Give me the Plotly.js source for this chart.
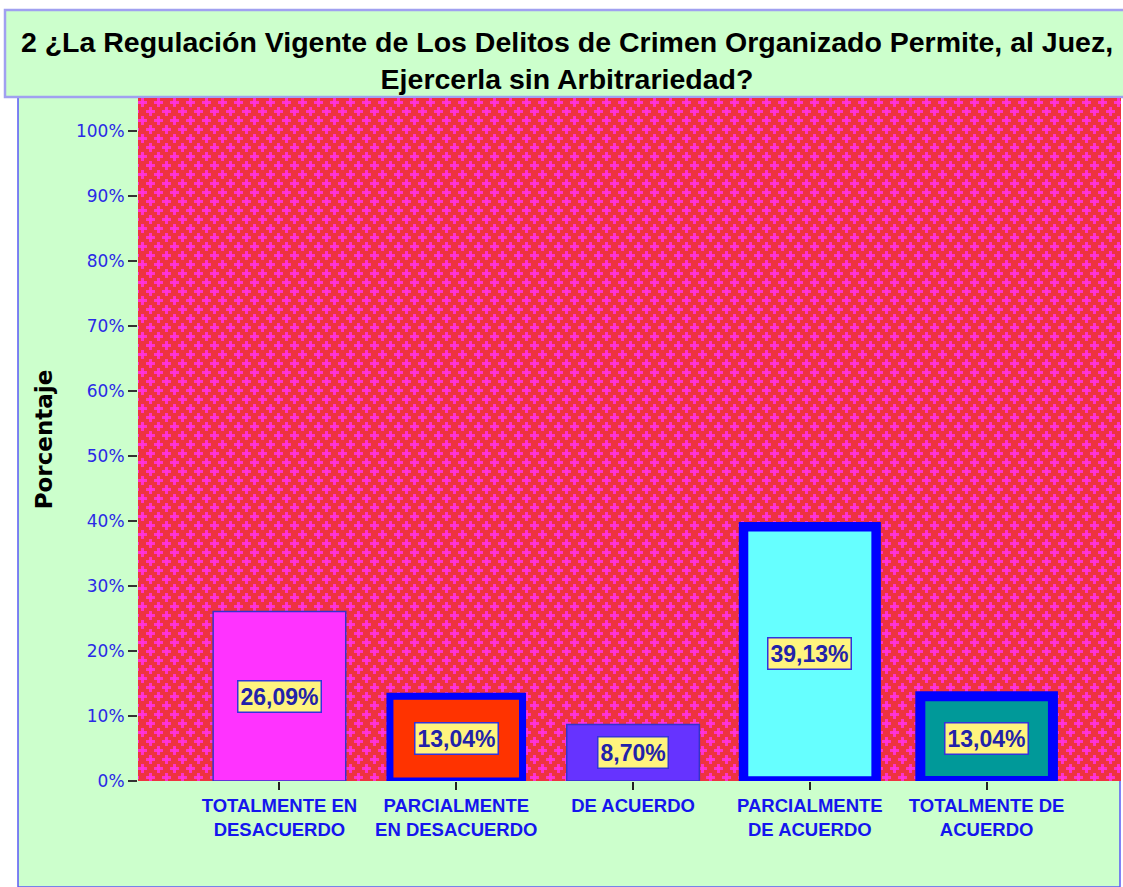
<!DOCTYPE html>
<html>
<head>
<meta charset="utf-8">
<script src="https://cdn.plot.ly/plotly-3.0.1.min.js"></script>
<style>
  html, body { margin: 0; padding: 0; background: #ffffff; }
  #chart { width: 1123px; height: 887px; }
</style>
</head>
<body>
<div id="chart"></div>
<script>
// ---- data ----
const categories = [
  "TOTALMENTE EN<br>DESACUERDO",
  "PARCIALMENTE<br>EN DESACUERDO",
  "DE ACUERDO",
  "PARCIALMENTE<br>DE ACUERDO",
  "TOTALMENTE DE<br>ACUERDO"
];
const percentages = [26.09, 13.04, 8.70, 39.13, 13.04];
const valueLabels = ["26,09%", "13,04%", "8,70%", "39,13%", "13,04%"];
const yTickValues = [0, 10, 20, 30, 40, 50, 60, 70, 80, 90, 100];
const yTickLabels = ["0%", "10%", "20%", "30%", "40%", "50%", "60%", "70%", "80%", "90%", "100%"];

// ---- styles ----
const barColors = ["#FF33FF", "#FF3300", "#6633FF", "#66FFFF", "#009999"];
const barLineColors = ["#3333CC", "#0000FF", "#3333CC", "#0000FF", "#0000FF"];
const barLineWidths = [1.5, 7, 1.5, 9.5, 10];

const xRange = [-0.8, 4.76];
const yRange = [0, 105.1];

// background pattern (red with magenta crosses)
const patternSvg =
  '<svg xmlns="http://www.w3.org/2000/svg" width="983" height="683">' +
  '<defs><pattern id="p" width="16" height="18" patternUnits="userSpaceOnUse">' +
  '<g fill="#FF33DD" fill-opacity="0.9">' +
  '<rect x="0" y="3" width="9" height="3"/><rect x="3" y="0" width="3" height="9"/>' +
  '<rect x="8" y="12" width="9" height="3"/><rect x="11" y="9" width="3" height="9"/>' +
  '<rect x="-8" y="12" width="9" height="3"/>' +
  '</g></pattern></defs>' +
  '<rect width="983" height="683" fill="#EE3340"/>' +
  '<rect width="983" height="683" fill="url(#p)"/></svg>';
const patternUri = "data:image/svg+xml;base64," + btoa(patternSvg);

const trace = {
  type: "bar",
  x: categories,
  y: percentages,
  width: 0.75,
  marker: {
    color: barColors,
    line: { color: barLineColors, width: barLineWidths }
  },
  hoverinfo: "skip"
};

const annotations = categories.map((c, i) => ({
  x: c,
  y: percentages[i] / 2,
  xref: "x",
  yref: "y",
  text: valueLabels[i],
  showarrow: false,
  bgcolor: "#FFF47E",
  bordercolor: "#3333DD",
  borderwidth: 1.5,
  borderpad: 2,
  font: { family: "Liberation Sans Narrow, Arial Narrow, Liberation Sans, Arial, sans-serif", size: 23, color: "#2222AA", weight: "bold" }
}));

// paper-coordinate helpers (plot area: x 138..1121, y 98..781)
const L = 138, R = 1121, T = 98, B = 781;
const px = v => (v - L) / (R - L);
const py = v => (B - v) / (B - T);

const layout = {
  width: 1123,
  height: 887,
  margin: { l: L, r: 1123 - R, t: T, b: 887 - B, pad: 0 },
  paper_bgcolor: "#FFFFFF",
  plot_bgcolor: "rgba(0,0,0,0)",
  showlegend: false,
  bargap: 0.25,
  title: {
    text: "2 ¿La Regulación Vigente de Los Delitos de Crimen Organizado Permite, al Juez,<br>Ejercerla sin Arbitrariedad?",
    font: { family: "Liberation Sans, Arial, sans-serif", size: 28.5, color: "#000000", weight: "bold" },
    x: 567 / 1123,
    xref: "container",
    xanchor: "center",
    y: 1 - 52 / 887,
    yref: "container",
    yanchor: "middle"
  },
  xaxis: {
    type: "category",
    range: xRange,
    showgrid: false,
    zeroline: false,
    showline: false,
    ticks: "outside",
    ticklen: 8,
    tickwidth: 2,
    tickcolor: "#222222",
    tickfont: { family: "Liberation Sans, Arial, sans-serif", size: 18.5, color: "#1515EE", weight: "bold" },
    fixedrange: true
  },
  yaxis: {
    range: yRange,
    tickvals: yTickValues,
    ticktext: yTickLabels,
    showgrid: false,
    zeroline: false,
    showline: false,
    ticks: "outside",
    ticklen: 9,
    tickwidth: 2,
    tickcolor: "#333333",
    tickfont: { family: "DejaVu Sans, Verdana, sans-serif", size: 17, color: "#2A2AE6" },
    title: {
      text: "Porcentaje",
      font: { family: "DejaVu Sans, Arial, sans-serif", size: 23, color: "#000000", weight: "bold" },
      standoff: 16
    },
    fixedrange: true
  },
  images: [{
    source: patternUri,
    xref: "x",
    yref: "y",
    x: xRange[0],
    y: yRange[1],
    sizex: xRange[1] - xRange[0],
    sizey: yRange[1] - yRange[0],
    xanchor: "left",
    yanchor: "top",
    sizing: "stretch",
    layer: "below"
  }],
  shapes: [
    {
      type: "rect", xref: "paper", yref: "paper", layer: "below",
      x0: px(18), x1: px(1120), y0: py(887), y1: py(97),
      fillcolor: "#CCFFCC", line: { color: "#5A5AF5", width: 1.5 }
    },
    {
      type: "rect", xref: "paper", yref: "paper", layer: "below",
      x0: px(5), x1: px(1125), y0: py(97), y1: py(10),
      fillcolor: "#CCFFCC", line: { color: "#A0A0F0", width: 2.5 }
    }
  ],
  annotations: annotations,
  hovermode: false
};

Plotly.newPlot("chart", [trace], layout, { displayModeBar: false, staticPlot: true });
</script>
</body>
</html>
